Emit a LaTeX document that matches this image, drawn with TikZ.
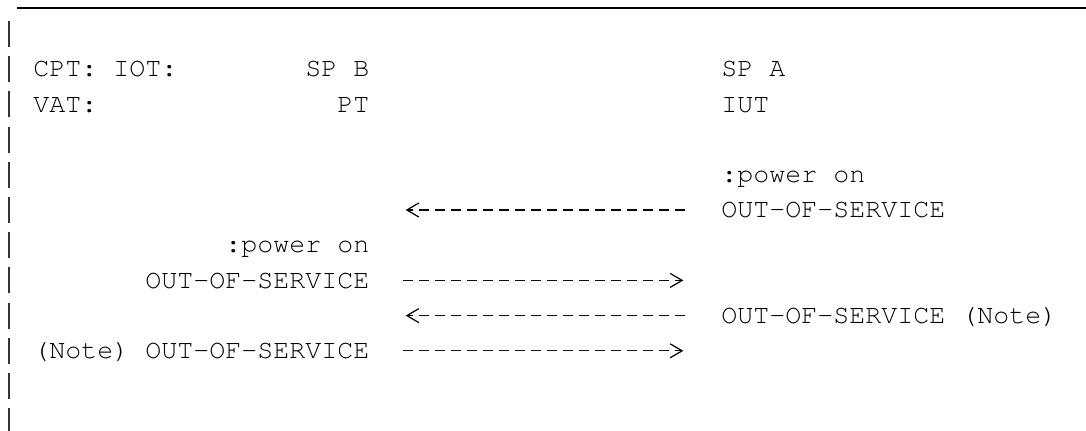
\documentclass[tikz,border=0pt]{standalone}
\usepackage[T1]{fontenc}
\usepackage{courier}
\usetikzlibrary{arrows.meta}
\tikzset{
  txt/.style={anchor=base west,inner sep=0pt,font=\fontsize{20pt}{24pt}\selectfont\ttfamily},
  msg/.style={line width=0.9pt,dash pattern=on 7.5pt off 4.5pt,
    -{Straight Barb[length=9pt,width=10.5pt,sep=2pt,line width=0.9pt]}},
  bar/.style={line width=1.1pt,black!80},
}
\begin{document}
\begin{tikzpicture}[x=0.75pt,y=-0.75pt]
  \useasboundingbox (0,0) rectangle (1086,430);
  \draw[line width=1.2pt] (17,8) -- (1086,8);
  \foreach \k in {1,...,12}
    \draw[bar] (9,{21+35.2*(\k-1)}) -- ++(0,26);

  \node[txt] (cpt) at (33,76.8) {CPT: IOT:};
  \node[txt] (spb) at (305,76.8) {SP B};
  \node[txt] (spa) at (721,76.8) {SP A};
  \node[txt] (vat) at (33,112) {VAT:};
  \node[txt] (pt) at (337,112) {PT};
  \node[txt] (iut) at (721,112) {IUT};

  \node[txt] (pwra) at (721,182.4) {:power on};
  \node[txt] (oosa) at (721,217.6) {OUT-OF-SERVICE};
  \node[txt] (pwrb) at (225,252.8) {:power on};
  \node[txt] (oosb) at (145,288) {OUT-OF-SERVICE};
  \node[txt] (oosan) at (721,323.2) {OUT-OF-SERVICE (Note)};
  \node[txt] (oosbn) at (33,358.4) {(Note) OUT-OF-SERVICE};

  \coordinate (a1) at (685,210);   \coordinate (b1) at (403,210);
  \coordinate (b2) at (403,280.4); \coordinate (a2) at (686,280.4);
  \coordinate (a3) at (685,315.6); \coordinate (b3) at (403,315.6);
  \coordinate (b4) at (403,350.8); \coordinate (a4) at (686,350.8);
  \draw[msg] (a1) -- (b1);
  \draw[msg] (b2) -- (a2);
  \draw[msg] (a3) -- (b3);
  \draw[msg] (b4) -- (a4);
\end{tikzpicture}
\end{document}
